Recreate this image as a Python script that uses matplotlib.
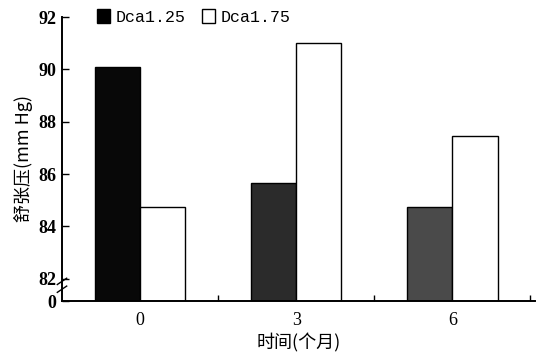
import matplotlib
matplotlib.use("Agg")
import matplotlib.pyplot as plt
import numpy as np

categories = ["0", "3", "6"]
dca125 = [90.1, 85.65, 84.75]
dca175 = [84.75, 91.0, 87.45]
yticks = [82, 84, 86, 88, 90, 92]
ymin = 81.15

serif = ["Liberation Serif", "DejaVu Serif"]
cjk = ["Noto Sans CJK SC", "DejaVu Sans"]

fig = plt.figure(figsize=(5.38, 3.53), dpi=100)
ax = fig.add_axes([62/538, 1-301/353, (535-62)/538, (301-17)/353])

x = np.arange(len(categories))
w = 0.29
dark_cols = ["#080808", "#2b2b2b", "#4a4a4a"]
b1 = ax.bar(x - w/2, np.array(dca125) - ymin, w, bottom=ymin, color=dark_cols,
            edgecolor="black", linewidth=1.0, label="Dca1.25")
b2 = ax.bar(x + w/2, np.array(dca175) - ymin, w, bottom=ymin, color="white",
            edgecolor="black", linewidth=1.0, label="Dca1.75")

ax.set_xlim(-0.5, 2.53)
ax.set_ylim(ymin, 92)
ax.spines["top"].set_visible(False)
ax.spines["right"].set_visible(False)
ax.spines["left"].set_linewidth(1.4)
ax.spines["bottom"].set_linewidth(1.4)

ax.set_yticks([ymin] + yticks)
ax.set_yticklabels(["0"] + [str(t) for t in yticks], fontfamily=serif, fontsize=13,
                   fontweight="bold")
ax.tick_params(axis="y", direction="in", length=5, width=1.0, pad=4)
ax.set_xticks(x)
ax.set_xticklabels(categories, fontfamily=serif, fontsize=13)
ax.tick_params(axis="x", which="major", length=0, pad=8)
ax.set_xticks([0.5, 1.5, 2.5], minor=True)
ax.tick_params(axis="x", which="minor", direction="in", length=4, width=1.0)

# axis break marks
for dy in (0.45, 0.75):
    ax.plot([-0.53, -0.47], [ymin + dy - 0.12, ymin + dy + 0.12], color="black",
            lw=1.0, clip_on=False, transform=ax.transData)

ax.set_ylabel("舒张压(mm Hg)", fontfamily=cjk, fontsize=13, labelpad=4)
ax.set_xlabel("时间(个月)", fontfamily=cjk, fontsize=13, labelpad=3)

leg = ax.legend(loc="upper left", bbox_to_anchor=(0.06, 1.05), ncol=2, frameon=False,
                prop={"family": ["Liberation Mono"], "size": 12},
                handlelength=0.8, handleheight=0.9, handletextpad=0.3, columnspacing=1.0,
                borderaxespad=0)
leg.legend_handles[0].set_facecolor("black")

fig.savefig("out.png", dpi=100)
